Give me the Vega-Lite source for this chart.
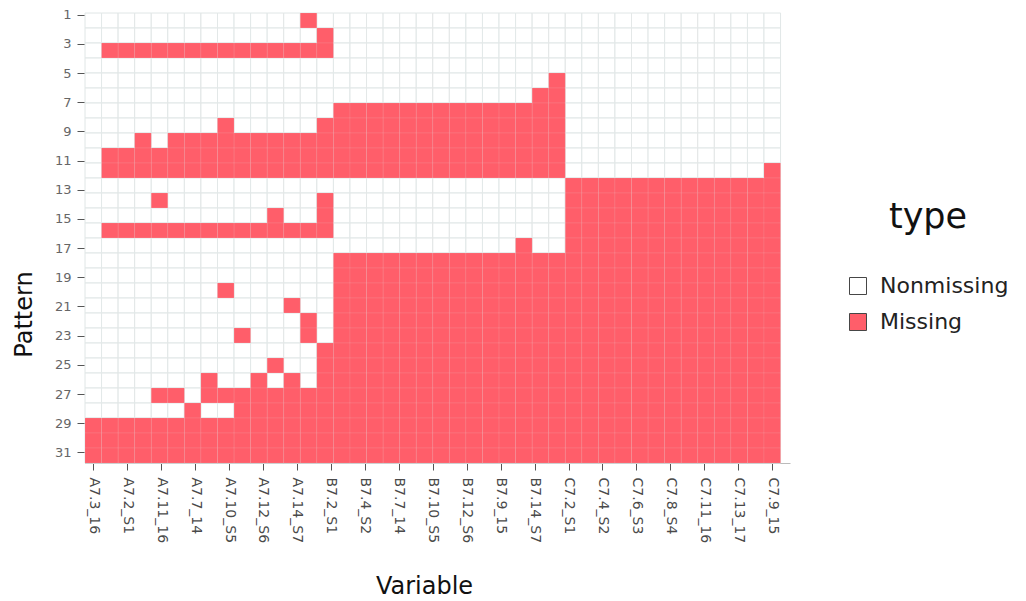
{
  "$schema": "https://vega.github.io/schema/vega-lite/v6.json",
  "width": 705,
  "height": 450,
  "padding": {"left": 12, "top": 8, "right": 5, "bottom": 5},
  "config": {"view": {"stroke": null}, "font": "DejaVu Sans"},
  "data": {"values": [
    {"Variable":"A7.3_16","1":0,"2":0,"3":0,"4":0,"5":0,"6":0,"7":0,"8":0,"9":0,"10":0,"11":0,"12":0,"13":0,"14":0,"15":0,"16":0,"17":0,"18":0,"19":0,"20":0,"21":0,"22":0,"23":0,"24":0,"25":0,"26":0,"27":0,"28":1,"29":1,"30":1},
    {"Variable":"A7.4_S2","1":0,"2":0,"3":1,"4":0,"5":0,"6":0,"7":0,"8":0,"9":0,"10":1,"11":1,"12":0,"13":0,"14":0,"15":1,"16":0,"17":0,"18":0,"19":0,"20":0,"21":0,"22":0,"23":0,"24":0,"25":0,"26":0,"27":0,"28":1,"29":1,"30":1},
    {"Variable":"A7.2_S1","1":0,"2":0,"3":1,"4":0,"5":0,"6":0,"7":0,"8":0,"9":0,"10":1,"11":1,"12":0,"13":0,"14":0,"15":1,"16":0,"17":0,"18":0,"19":0,"20":0,"21":0,"22":0,"23":0,"24":0,"25":0,"26":0,"27":0,"28":1,"29":1,"30":1},
    {"Variable":"A7.1_15","1":0,"2":0,"3":1,"4":0,"5":0,"6":0,"7":0,"8":0,"9":1,"10":1,"11":1,"12":0,"13":0,"14":0,"15":1,"16":0,"17":0,"18":0,"19":0,"20":0,"21":0,"22":0,"23":0,"24":0,"25":0,"26":0,"27":0,"28":1,"29":1,"30":1},
    {"Variable":"A7.11_16","1":0,"2":0,"3":1,"4":0,"5":0,"6":0,"7":0,"8":0,"9":0,"10":1,"11":1,"12":0,"13":1,"14":0,"15":1,"16":0,"17":0,"18":0,"19":0,"20":0,"21":0,"22":0,"23":0,"24":0,"25":0,"26":1,"27":0,"28":1,"29":1,"30":1},
    {"Variable":"A7.6_S3","1":0,"2":0,"3":1,"4":0,"5":0,"6":0,"7":0,"8":0,"9":1,"10":1,"11":1,"12":0,"13":0,"14":0,"15":1,"16":0,"17":0,"18":0,"19":0,"20":0,"21":0,"22":0,"23":0,"24":0,"25":0,"26":1,"27":0,"28":1,"29":1,"30":1},
    {"Variable":"A7.7_14","1":0,"2":0,"3":1,"4":0,"5":0,"6":0,"7":0,"8":0,"9":1,"10":1,"11":1,"12":0,"13":0,"14":0,"15":1,"16":0,"17":0,"18":0,"19":0,"20":0,"21":0,"22":0,"23":0,"24":0,"25":0,"26":0,"27":1,"28":1,"29":1,"30":1},
    {"Variable":"A7.9_15","1":0,"2":0,"3":1,"4":0,"5":0,"6":0,"7":0,"8":0,"9":1,"10":1,"11":1,"12":0,"13":0,"14":0,"15":1,"16":0,"17":0,"18":0,"19":0,"20":0,"21":0,"22":0,"23":0,"24":0,"25":1,"26":1,"27":0,"28":1,"29":1,"30":1},
    {"Variable":"A7.10_S5","1":0,"2":0,"3":1,"4":0,"5":0,"6":0,"7":0,"8":1,"9":1,"10":1,"11":1,"12":0,"13":0,"14":0,"15":1,"16":0,"17":0,"18":0,"19":1,"20":0,"21":0,"22":0,"23":0,"24":0,"25":0,"26":1,"27":0,"28":1,"29":1,"30":1},
    {"Variable":"A7.8_S4","1":0,"2":0,"3":1,"4":0,"5":0,"6":0,"7":0,"8":0,"9":1,"10":1,"11":1,"12":0,"13":0,"14":0,"15":1,"16":0,"17":0,"18":0,"19":0,"20":0,"21":0,"22":1,"23":0,"24":0,"25":0,"26":1,"27":1,"28":1,"29":1,"30":1},
    {"Variable":"A7.12_S6","1":0,"2":0,"3":1,"4":0,"5":0,"6":0,"7":0,"8":0,"9":1,"10":1,"11":1,"12":0,"13":0,"14":0,"15":1,"16":0,"17":0,"18":0,"19":0,"20":0,"21":0,"22":0,"23":0,"24":0,"25":1,"26":1,"27":1,"28":1,"29":1,"30":1},
    {"Variable":"A7.5_13","1":0,"2":0,"3":1,"4":0,"5":0,"6":0,"7":0,"8":0,"9":1,"10":1,"11":1,"12":0,"13":0,"14":1,"15":1,"16":0,"17":0,"18":0,"19":0,"20":0,"21":0,"22":0,"23":0,"24":1,"25":0,"26":1,"27":1,"28":1,"29":1,"30":1},
    {"Variable":"A7.14_S7","1":0,"2":0,"3":1,"4":0,"5":0,"6":0,"7":0,"8":0,"9":1,"10":1,"11":1,"12":0,"13":0,"14":0,"15":1,"16":0,"17":0,"18":0,"19":0,"20":1,"21":0,"22":0,"23":0,"24":0,"25":1,"26":1,"27":1,"28":1,"29":1,"30":1},
    {"Variable":"A7.13_17","1":1,"2":0,"3":1,"4":0,"5":0,"6":0,"7":0,"8":0,"9":1,"10":1,"11":1,"12":0,"13":0,"14":0,"15":1,"16":0,"17":0,"18":0,"19":0,"20":0,"21":1,"22":1,"23":0,"24":0,"25":0,"26":1,"27":1,"28":1,"29":1,"30":1},
    {"Variable":"B7.2_S1","1":0,"2":1,"3":1,"4":0,"5":0,"6":0,"7":0,"8":1,"9":1,"10":1,"11":1,"12":0,"13":1,"14":1,"15":1,"16":0,"17":0,"18":0,"19":0,"20":0,"21":0,"22":0,"23":1,"24":1,"25":1,"26":1,"27":1,"28":1,"29":1,"30":1},
    {"Variable":"B7.3_16","1":0,"2":0,"3":0,"4":0,"5":0,"6":0,"7":1,"8":1,"9":1,"10":1,"11":1,"12":0,"13":0,"14":0,"15":0,"16":0,"17":1,"18":1,"19":1,"20":1,"21":1,"22":1,"23":1,"24":1,"25":1,"26":1,"27":1,"28":1,"29":1,"30":1},
    {"Variable":"B7.4_S2","1":0,"2":0,"3":0,"4":0,"5":0,"6":0,"7":1,"8":1,"9":1,"10":1,"11":1,"12":0,"13":0,"14":0,"15":0,"16":0,"17":1,"18":1,"19":1,"20":1,"21":1,"22":1,"23":1,"24":1,"25":1,"26":1,"27":1,"28":1,"29":1,"30":1},
    {"Variable":"B7.6_S3","1":0,"2":0,"3":0,"4":0,"5":0,"6":0,"7":1,"8":1,"9":1,"10":1,"11":1,"12":0,"13":0,"14":0,"15":0,"16":0,"17":1,"18":1,"19":1,"20":1,"21":1,"22":1,"23":1,"24":1,"25":1,"26":1,"27":1,"28":1,"29":1,"30":1},
    {"Variable":"B7.7_14","1":0,"2":0,"3":0,"4":0,"5":0,"6":0,"7":1,"8":1,"9":1,"10":1,"11":1,"12":0,"13":0,"14":0,"15":0,"16":0,"17":1,"18":1,"19":1,"20":1,"21":1,"22":1,"23":1,"24":1,"25":1,"26":1,"27":1,"28":1,"29":1,"30":1},
    {"Variable":"B7.1_15","1":0,"2":0,"3":0,"4":0,"5":0,"6":0,"7":1,"8":1,"9":1,"10":1,"11":1,"12":0,"13":0,"14":0,"15":0,"16":0,"17":1,"18":1,"19":1,"20":1,"21":1,"22":1,"23":1,"24":1,"25":1,"26":1,"27":1,"28":1,"29":1,"30":1},
    {"Variable":"B7.8_S4","1":0,"2":0,"3":0,"4":0,"5":0,"6":0,"7":1,"8":1,"9":1,"10":1,"11":1,"12":0,"13":0,"14":0,"15":0,"16":0,"17":1,"18":1,"19":1,"20":1,"21":1,"22":1,"23":1,"24":1,"25":1,"26":1,"27":1,"28":1,"29":1,"30":1},
    {"Variable":"B7.10_S5","1":0,"2":0,"3":0,"4":0,"5":0,"6":0,"7":1,"8":1,"9":1,"10":1,"11":1,"12":0,"13":0,"14":0,"15":0,"16":0,"17":1,"18":1,"19":1,"20":1,"21":1,"22":1,"23":1,"24":1,"25":1,"26":1,"27":1,"28":1,"29":1,"30":1},
    {"Variable":"B7.11_16","1":0,"2":0,"3":0,"4":0,"5":0,"6":0,"7":1,"8":1,"9":1,"10":1,"11":1,"12":0,"13":0,"14":0,"15":0,"16":0,"17":1,"18":1,"19":1,"20":1,"21":1,"22":1,"23":1,"24":1,"25":1,"26":1,"27":1,"28":1,"29":1,"30":1},
    {"Variable":"B7.12_S6","1":0,"2":0,"3":0,"4":0,"5":0,"6":0,"7":1,"8":1,"9":1,"10":1,"11":1,"12":0,"13":0,"14":0,"15":0,"16":0,"17":1,"18":1,"19":1,"20":1,"21":1,"22":1,"23":1,"24":1,"25":1,"26":1,"27":1,"28":1,"29":1,"30":1},
    {"Variable":"B7.5_13","1":0,"2":0,"3":0,"4":0,"5":0,"6":0,"7":1,"8":1,"9":1,"10":1,"11":1,"12":0,"13":0,"14":0,"15":0,"16":0,"17":1,"18":1,"19":1,"20":1,"21":1,"22":1,"23":1,"24":1,"25":1,"26":1,"27":1,"28":1,"29":1,"30":1},
    {"Variable":"B7.9_15","1":0,"2":0,"3":0,"4":0,"5":0,"6":0,"7":1,"8":1,"9":1,"10":1,"11":1,"12":0,"13":0,"14":0,"15":0,"16":0,"17":1,"18":1,"19":1,"20":1,"21":1,"22":1,"23":1,"24":1,"25":1,"26":1,"27":1,"28":1,"29":1,"30":1},
    {"Variable":"B7.13_17","1":0,"2":0,"3":0,"4":0,"5":0,"6":0,"7":1,"8":1,"9":1,"10":1,"11":1,"12":0,"13":0,"14":0,"15":0,"16":1,"17":1,"18":1,"19":1,"20":1,"21":1,"22":1,"23":1,"24":1,"25":1,"26":1,"27":1,"28":1,"29":1,"30":1},
    {"Variable":"B7.14_S7","1":0,"2":0,"3":0,"4":0,"5":0,"6":1,"7":1,"8":1,"9":1,"10":1,"11":1,"12":0,"13":0,"14":0,"15":0,"16":0,"17":1,"18":1,"19":1,"20":1,"21":1,"22":1,"23":1,"24":1,"25":1,"26":1,"27":1,"28":1,"29":1,"30":1},
    {"Variable":"C7.14_S7","1":0,"2":0,"3":0,"4":0,"5":1,"6":1,"7":1,"8":1,"9":1,"10":1,"11":1,"12":0,"13":0,"14":0,"15":0,"16":0,"17":1,"18":1,"19":1,"20":1,"21":1,"22":1,"23":1,"24":1,"25":1,"26":1,"27":1,"28":1,"29":1,"30":1},
    {"Variable":"C7.2_S1","1":0,"2":0,"3":0,"4":0,"5":0,"6":0,"7":0,"8":0,"9":0,"10":0,"11":0,"12":1,"13":1,"14":1,"15":1,"16":1,"17":1,"18":1,"19":1,"20":1,"21":1,"22":1,"23":1,"24":1,"25":1,"26":1,"27":1,"28":1,"29":1,"30":1},
    {"Variable":"C7.1_15","1":0,"2":0,"3":0,"4":0,"5":0,"6":0,"7":0,"8":0,"9":0,"10":0,"11":0,"12":1,"13":1,"14":1,"15":1,"16":1,"17":1,"18":1,"19":1,"20":1,"21":1,"22":1,"23":1,"24":1,"25":1,"26":1,"27":1,"28":1,"29":1,"30":1},
    {"Variable":"C7.4_S2","1":0,"2":0,"3":0,"4":0,"5":0,"6":0,"7":0,"8":0,"9":0,"10":0,"11":0,"12":1,"13":1,"14":1,"15":1,"16":1,"17":1,"18":1,"19":1,"20":1,"21":1,"22":1,"23":1,"24":1,"25":1,"26":1,"27":1,"28":1,"29":1,"30":1},
    {"Variable":"C7.3_16","1":0,"2":0,"3":0,"4":0,"5":0,"6":0,"7":0,"8":0,"9":0,"10":0,"11":0,"12":1,"13":1,"14":1,"15":1,"16":1,"17":1,"18":1,"19":1,"20":1,"21":1,"22":1,"23":1,"24":1,"25":1,"26":1,"27":1,"28":1,"29":1,"30":1},
    {"Variable":"C7.6_S3","1":0,"2":0,"3":0,"4":0,"5":0,"6":0,"7":0,"8":0,"9":0,"10":0,"11":0,"12":1,"13":1,"14":1,"15":1,"16":1,"17":1,"18":1,"19":1,"20":1,"21":1,"22":1,"23":1,"24":1,"25":1,"26":1,"27":1,"28":1,"29":1,"30":1},
    {"Variable":"C7.5_13","1":0,"2":0,"3":0,"4":0,"5":0,"6":0,"7":0,"8":0,"9":0,"10":0,"11":0,"12":1,"13":1,"14":1,"15":1,"16":1,"17":1,"18":1,"19":1,"20":1,"21":1,"22":1,"23":1,"24":1,"25":1,"26":1,"27":1,"28":1,"29":1,"30":1},
    {"Variable":"C7.8_S4","1":0,"2":0,"3":0,"4":0,"5":0,"6":0,"7":0,"8":0,"9":0,"10":0,"11":0,"12":1,"13":1,"14":1,"15":1,"16":1,"17":1,"18":1,"19":1,"20":1,"21":1,"22":1,"23":1,"24":1,"25":1,"26":1,"27":1,"28":1,"29":1,"30":1},
    {"Variable":"C7.7_14","1":0,"2":0,"3":0,"4":0,"5":0,"6":0,"7":0,"8":0,"9":0,"10":0,"11":0,"12":1,"13":1,"14":1,"15":1,"16":1,"17":1,"18":1,"19":1,"20":1,"21":1,"22":1,"23":1,"24":1,"25":1,"26":1,"27":1,"28":1,"29":1,"30":1},
    {"Variable":"C7.11_16","1":0,"2":0,"3":0,"4":0,"5":0,"6":0,"7":0,"8":0,"9":0,"10":0,"11":0,"12":1,"13":1,"14":1,"15":1,"16":1,"17":1,"18":1,"19":1,"20":1,"21":1,"22":1,"23":1,"24":1,"25":1,"26":1,"27":1,"28":1,"29":1,"30":1},
    {"Variable":"C7.10_S5","1":0,"2":0,"3":0,"4":0,"5":0,"6":0,"7":0,"8":0,"9":0,"10":0,"11":0,"12":1,"13":1,"14":1,"15":1,"16":1,"17":1,"18":1,"19":1,"20":1,"21":1,"22":1,"23":1,"24":1,"25":1,"26":1,"27":1,"28":1,"29":1,"30":1},
    {"Variable":"C7.13_17","1":0,"2":0,"3":0,"4":0,"5":0,"6":0,"7":0,"8":0,"9":0,"10":0,"11":0,"12":1,"13":1,"14":1,"15":1,"16":1,"17":1,"18":1,"19":1,"20":1,"21":1,"22":1,"23":1,"24":1,"25":1,"26":1,"27":1,"28":1,"29":1,"30":1},
    {"Variable":"C7.12_S6","1":0,"2":0,"3":0,"4":0,"5":0,"6":0,"7":0,"8":0,"9":0,"10":0,"11":0,"12":1,"13":1,"14":1,"15":1,"16":1,"17":1,"18":1,"19":1,"20":1,"21":1,"22":1,"23":1,"24":1,"25":1,"26":1,"27":1,"28":1,"29":1,"30":1},
    {"Variable":"C7.9_15","1":0,"2":0,"3":0,"4":0,"5":0,"6":0,"7":0,"8":0,"9":0,"10":0,"11":1,"12":1,"13":1,"14":1,"15":1,"16":1,"17":1,"18":1,"19":1,"20":1,"21":1,"22":1,"23":1,"24":1,"25":1,"26":1,"27":1,"28":1,"29":1,"30":1}
  ]},
  "transform": [
    {"fold": ["1","2","3","4","5","6","7","8","9","10","11","12","13","14","15","16","17","18","19","20","21","22","23","24","25","26","27","28","29","30"], "as": ["Pattern", "value"]},
    {"lookup": "value", "from": {"data": {"values": [{"value": 0, "type": "Nonmissing"}, {"value": 1, "type": "Missing"}]}, "key": "value", "fields": ["type"]}}
  ],
  "layer": [
    {
      "encoding": {
        "x": {"field": "Variable", "type": "nominal", "axis": null,
          "scale": {"domain": ["A7.3_16","A7.4_S2","A7.2_S1","A7.1_15","A7.11_16","A7.6_S3","A7.7_14","A7.9_15","A7.10_S5","A7.8_S4","A7.12_S6","A7.5_13","A7.14_S7","A7.13_17","B7.2_S1","B7.3_16","B7.4_S2","B7.6_S3","B7.7_14","B7.1_15","B7.8_S4","B7.10_S5","B7.11_16","B7.12_S6","B7.5_13","B7.9_15","B7.13_17","B7.14_S7","C7.14_S7","C7.2_S1","C7.1_15","C7.4_S2","C7.3_16","C7.6_S3","C7.5_13","C7.8_S4","C7.7_14","C7.11_16","C7.10_S5","C7.13_17","C7.12_S6","C7.9_15"], "paddingInner": 0, "paddingOuter": 0.285, "align": 0}},
        "y": {"field": "Pattern", "type": "ordinal", "axis": null,
          "scale": {"domain": ["1","2","3","4","5","6","7","8","9","10","11","12","13","14","15","16","17","18","19","20","21","22","23","24","25","26","27","28","29","30"], "paddingInner": 0, "paddingOuter": 0}}
      },
      "layer": [
        {"mark": {"type": "rect", "fill": "white", "stroke": "#e0e6e6", "strokeWidth": 1}},
        {"mark": {"type": "rect", "opacity": 0.9, "stroke": "white", "strokeWidth": 1, "strokeOpacity": 0.1},
         "encoding": {
           "color": {"field": "type", "type": "nominal",
             "scale": {"domain": ["Nonmissing", "Missing"], "range": ["transparent", "#ff4d5a"]},
             "legend": {"title": "type", "orient": "none", "legendX": 762, "legendY": 187, "padding": 0,
               "titleFontSize": 35, "titleFontWeight": "normal", "titleColor": "#111", "titlePadding": 40, "titleAnchor": "middle",
               "labelFontSize": 22, "labelColor": "#222", "labelOffset": 11,
               "symbolType": "square", "symbolSize": 289, "symbolStrokeColor": "#333", "symbolStrokeWidth": 1, "rowPadding": 14}}
         }}
      ]
    },
    {
      "transform": [{"filter": {"field": "Variable", "oneOf": ["A7.3_16","A7.2_S1","A7.11_16","A7.7_14","A7.10_S5","A7.12_S6","A7.14_S7","B7.2_S1","B7.4_S2","B7.7_14","B7.10_S5","B7.12_S6","B7.9_15","B7.14_S7","C7.2_S1","C7.4_S2","C7.6_S3","C7.8_S4","C7.11_16","C7.13_17","C7.9_15"]}}],
      "mark": {"type": "point", "opacity": 0},
      "encoding": {
        "x": {"field": "Variable", "type": "nominal", "title": "Variable",
          "scale": {"type": "point", "domain": ["A7.3_16","A7.2_S1","A7.11_16","A7.7_14","A7.10_S5","A7.12_S6","A7.14_S7","B7.2_S1","B7.4_S2","B7.7_14","B7.10_S5","B7.12_S6","B7.9_15","B7.14_S7","C7.2_S1","C7.4_S2","C7.6_S3","C7.8_S4","C7.11_16","C7.13_17","C7.9_15"], "padding": 0.383, "align": 0.317},
          "axis": {"orient": "bottom", "labelAngle": 90, "labelAlign": "left", "labelBaseline": "middle", "labelFontSize": 14, "labelColor": "#4a4a4a", "labelPadding": 7, "labelOverlap": false,
            "tickSize": 7, "tickColor": "#555", "domainColor": "#bbb", "grid": false,
            "titleFontSize": 24, "titleFontWeight": "normal", "titleColor": "#111", "titlePadding": 32, "titleX": 339}},
        "y": {"field": "Pattern", "type": "quantitative", "title": "Pattern",
          "scale": {"domain": [0.8835, 31.727], "reverse": true, "nice": false, "zero": false},
          "axis": {"orient": "left", "values": [1,3,5,7,9,11,13,15,17,19,21,23,25,27,29,31], "format": "d", "labelFontSize": 13, "labelColor": "#666", "labelPadding": 6, "labelOverlap": false,
            "tickSize": 8, "tickColor": "#555", "domainColor": "#999", "grid": false,
            "titleFontSize": 24, "titleFontWeight": "normal", "titleColor": "#111", "titlePadding": 18, "titleY": 301}}
      }
    }
  ],
  "resolve": {"scale": {"x": "independent", "y": "independent"}}
}
